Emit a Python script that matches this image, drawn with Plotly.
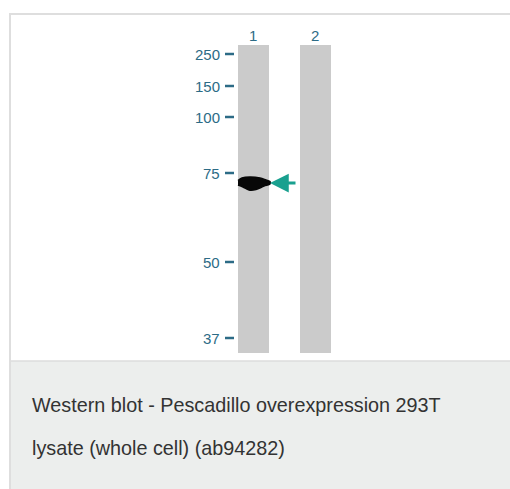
import plotly.graph_objects as go

# ---- data ----
lane_labels = ["1", "2"]
lane_centers = [253.5, 315.5]          # lane centre, pixel-space x
lane_width = 31
lane_top, lane_bottom = 45, 353

marker_kda = ["250", "150", "100", "75", "50", "37"]
marker_pos = [54, 86, 117, 173, 262, 338]   # migration position (pixel-space y)

band_lane = 0
band_x = [238, 242, 250, 260, 266, 270, 270, 264, 256, 249, 243, 238]
band_y = [180.5, 178, 177, 178, 180, 181.5, 184, 186, 189.5, 190, 187, 185]
arrow_y = 183

caption_lines = ["Western blot - Pescadillo overexpression 293T",
                 "lysate (whole cell) (ab94282)"]

LABEL_COLOR = "#2c6b86"
ARROW_COLOR = "#19a08f"

fig = go.Figure()

# band (filled polygon)
fig.add_trace(go.Scatter(x=band_x, y=band_y, fill="toself", mode="lines",
                         line=dict(color="#080808", width=1.5, shape="spline"),
                         fillcolor="#080808", hoverinfo="skip", showlegend=False))

shapes = []
# frame: white area with light border on left and top
shapes.append(dict(type="rect", xref="x", yref="y", x0=10, x1=512, y0=14, y1=361,
                   fillcolor="white", line=dict(width=0), layer="below"))
shapes.append(dict(type="line", xref="x", yref="y", x0=10, x1=512, y0=14, y1=14,
                   line=dict(color="#dedede", width=2), layer="below"))
# caption panel
shapes.append(dict(type="rect", xref="x", yref="y", x0=10, x1=512, y0=361, y1=492,
                   fillcolor="#eceeed", line=dict(width=0), layer="below"))
shapes.append(dict(type="line", xref="x", yref="y", x0=10, x1=512, y0=361, y1=361,
                   line=dict(color="#dcdcdc", width=1.5), layer="below"))
shapes.append(dict(type="line", xref="x", yref="y", x0=10, x1=10, y0=13, y1=492,
                   line=dict(color="#dedede", width=2), layer="below"))

# lanes
for c in lane_centers:
    shapes.append(dict(type="rect", xref="x", yref="y", x0=c - lane_width / 2,
                       x1=c + lane_width / 2, y0=lane_top, y1=lane_bottom,
                       fillcolor="#cbcbcb", line=dict(width=0), layer="below"))

# marker dashes
for p in marker_pos:
    shapes.append(dict(type="line", xref="x", yref="y", x0=225, x1=234, y0=p, y1=p,
                       line=dict(color=LABEL_COLOR, width=2.5)))

annotations = []
for lbl, p in zip(marker_kda, marker_pos):
    annotations.append(dict(x=222, y=p, xref="x", yref="y", text=lbl, showarrow=False,
                            xanchor="right", yanchor="middle",
                            font=dict(family="Liberation Sans", size=15, color=LABEL_COLOR)))
for lbl, c in zip(lane_labels, lane_centers):
    annotations.append(dict(x=c - 1, y=35, xref="x", yref="y", text=lbl, showarrow=False,
                            xanchor="center", yanchor="middle",
                            font=dict(family="Liberation Sans", size=15, color=LABEL_COLOR)))
# arrow pointing at the band
annotations.append(dict(x=270, y=arrow_y, ax=297, ay=arrow_y, xref="x", yref="y",
                        axref="x", ayref="y", text="", showarrow=True, arrowhead=2,
                        arrowsize=1.25, arrowwidth=3, arrowcolor=ARROW_COLOR))
# caption
for i, line in enumerate(caption_lines):
    annotations.append(dict(x=30, y=405 + i * 43, xref="x", yref="y", text=line,
                            showarrow=False, xanchor="left", yanchor="middle",
                            font=dict(family="Liberation Sans", size=19.8, color="#333333")))

fig.update_layout(
    width=510, height=489, margin=dict(l=0, r=0, t=0, b=0),
    paper_bgcolor="white", plot_bgcolor="white",
    xaxis=dict(range=[0, 510], visible=False, fixedrange=True),
    yaxis=dict(range=[489, 0], visible=False, fixedrange=True),
    shapes=shapes, annotations=annotations, showlegend=False,
)

# remove the default page margin so the figure fills the 510x489 window exactly
fig.write_html("out.html",
               config={"displayModeBar": False, "staticPlot": True},
               post_script="document.body.style.margin='0';"
                           "document.body.style.overflow='hidden';")
